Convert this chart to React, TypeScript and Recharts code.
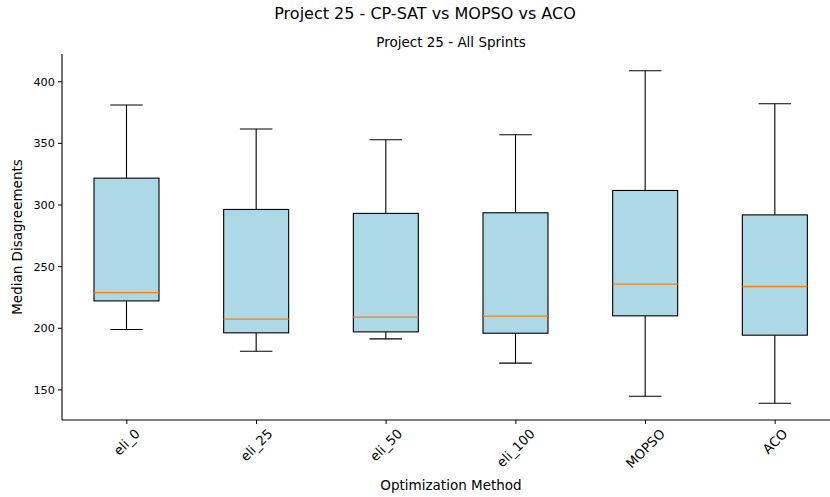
import React from 'react';
import { ComposedChart, Bar, XAxis, YAxis } from 'recharts';

// Box-plot statistics per optimization method
const methods = ['eli_0', 'eli_25', 'eli_50', 'eli_100', 'MOPSO', 'ACO'];
const whiskerLow = [199.0, 181.4, 191.4, 171.7, 144.9, 139.2];
const quartile1 = [222.2, 196.3, 197.1, 196.0, 210.1, 194.4];
const medians = [229.0, 207.4, 209.0, 209.8, 235.8, 233.9];
const quartile3 = [321.8, 296.4, 293.2, 293.7, 311.8, 292.0];
const whiskerHigh = [381.1, 361.6, 352.9, 357.0, 408.9, 382.1];
const yTicks = [150, 200, 250, 300, 350, 400];
const yDomain = [125.6, 422.5];

const data = methods.map((method, i) => ({
  method,
  range: [whiskerLow[i], whiskerHigh[i]],
  low: whiskerLow[i],
  q1: quartile1[i],
  median: medians[i],
  q3: quartile3[i],
  high: whiskerHigh[i],
}));

const FONT = '"DejaVu Sans", sans-serif';

// Approximate DejaVu Sans advance widths (em) for tick-label layout
const charWidths: Record<string, number> = {
  e: 0.615, l: 0.278, i: 0.278, _: 0.5, M: 0.863, O: 0.787, P: 0.603,
  S: 0.635, A: 0.684, C: 0.698,
};
const textWidth = (s: string, fs: number) =>
  s.split('').reduce((acc, ch) => acc + (charWidths[ch] ?? 0.636), 0) * fs;

const BoxShape = (props: any) => {
  const { x, y, width, height, payload } = props;
  const top = Math.min(y, y + height);
  const bottom = Math.max(y, y + height);
  const lo = payload.low;
  const hi = payload.high;
  const toY = (v: number) => top + ((hi - v) / (hi - lo)) * (bottom - top);
  const cx = x + width / 2;
  const cap = width / 4;
  const yQ1 = toY(payload.q1);
  const yQ3 = toY(payload.q3);
  const yMed = toY(payload.median);
  return (
    <g>
      <line x1={cx} x2={cx} y1={top} y2={yQ3} stroke="#000" strokeWidth={1.1} />
      <line x1={cx} x2={cx} y1={yQ1} y2={bottom} stroke="#000" strokeWidth={1.1} />
      <line x1={cx - cap} x2={cx + cap} y1={top} y2={top} stroke="#000" strokeWidth={1.1} />
      <line x1={cx - cap} x2={cx + cap} y1={bottom} y2={bottom} stroke="#000" strokeWidth={1.1} />
      <rect x={x} y={yQ3} width={width} height={yQ1 - yQ3} fill="#add8e6" stroke="#000" strokeWidth={1.1} />
      <line x1={x} x2={x + width} y1={yMed} y2={yMed} stroke="#ff7f0e" strokeWidth={1.3} />
    </g>
  );
};

const XTick = (props: any) => {
  const { x, y, payload } = props;
  const label = String(payload.value);
  const fs = 13.2;
  const w = textWidth(label, fs);
  const h = fs * 0.95;
  const cy = y + 0.354 * (w + h);
  return (
    <text
      x={x}
      y={cy}
      textAnchor="middle"
      dominantBaseline="central"
      transform={`rotate(-45, ${x}, ${cy})`}
      fontFamily={FONT}
      fontSize={fs}
      fill="#000"
    >
      {label}
    </text>
  );
};

export default function App() {
  return (
    <div
      style={{
        position: 'fixed',
        left: 0,
        top: 0,
        width: 830,
        height: 497,
        overflow: 'hidden',
        background: '#fff',
        fontFamily: FONT,
      }}
    >
      <div
        style={{
          position: 'absolute',
          left: 0,
          width: 850,
          top: 4,
          textAlign: 'center',
          fontSize: 16,
          lineHeight: '20px',
          color: '#000',
        }}
      >
        Project 25 - CP-SAT vs MOPSO vs ACO
      </div>
      <div
        style={{
          position: 'absolute',
          left: 62,
          width: 778,
          top: 34,
          textAlign: 'center',
          fontSize: 13.5,
          lineHeight: '17px',
          color: '#000',
        }}
      >
        Project 25 - All Sprints
      </div>
      <div style={{ position: 'absolute', left: 0, top: 0 }}>
        <ComposedChart
          width={842}
          height={497}
          data={data}
          margin={{ top: 54, right: 2, bottom: 0, left: 0 }}
          barCategoryGap={0}
        >
          <XAxis
            dataKey="method"
            height={77}
            tickSize={4}
            tickMargin={3}
            tickLine={{ stroke: '#000', strokeWidth: 1 }}
            axisLine={{ stroke: '#000', strokeWidth: 1.1 }}
            tick={<XTick />}
            interval={0}
            label={{
              value: 'Optimization Method',
              position: 'insideBottom',
              offset: 7,
              fill: '#000',
              fontSize: 13.5,
              fontFamily: FONT,
            }}
          />
          <XAxis
            xAxisId="top"
            orientation="top"
            dataKey="method"
            height={0}
            tick={false}
            tickLine={false}
            axisLine={{ stroke: '#000', strokeWidth: 1.1 }}
          />
          <YAxis
            type="number"
            width={62}
            domain={yDomain}
            ticks={yTicks}
            allowDataOverflow
            tickSize={4}
            tickMargin={3}
            tickLine={{ stroke: '#000', strokeWidth: 1 }}
            axisLine={{ stroke: '#000', strokeWidth: 1.1 }}
            tick={{ fill: '#000', fontSize: 11.3, fontFamily: FONT }}
            label={{
              value: 'Median Disagreements',
              angle: -90,
              position: 'insideLeft',
              offset: 17,
              style: { textAnchor: 'middle' },
              fill: '#000',
              fontSize: 13.5,
              fontFamily: FONT,
            }}
          />
          <Bar
            dataKey="range"
            barSize={65}
            shape={<BoxShape />}
            isAnimationActive={false}
          />
        </ComposedChart>
      </div>
    </div>
  );
}
